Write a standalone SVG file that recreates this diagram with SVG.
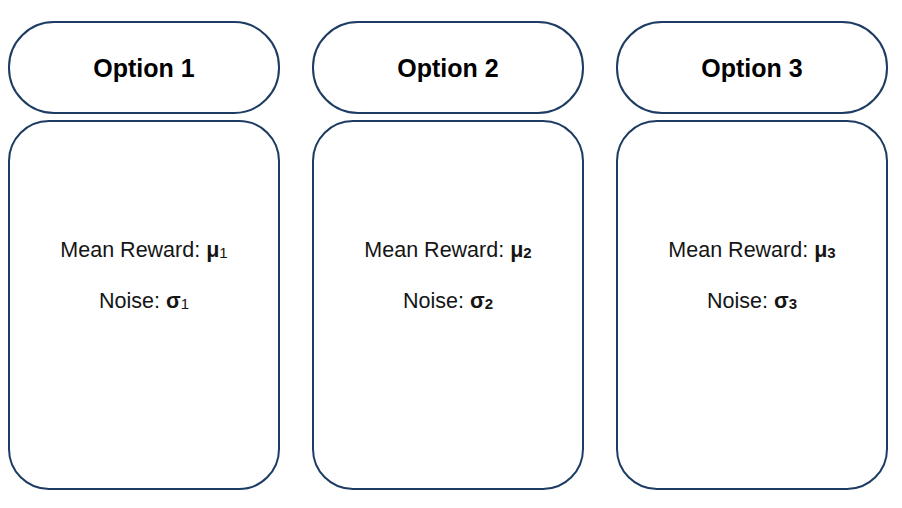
<svg xmlns="http://www.w3.org/2000/svg" width="902" height="508" viewBox="0 0 902 508">
<style>
.box{fill:#ffffff;stroke:#1d3c64;stroke-width:2}
.title{font-family:"Liberation Sans",Arial,sans-serif;font-weight:bold;font-size:25px;fill:#000;text-anchor:middle}
.body{font-family:"Liberation Sans",Arial,sans-serif;font-size:21.5px;fill:#151515;text-anchor:middle}
.b{font-weight:bold}
.sub{font-size:15px}
</style>
<rect width="902" height="508" fill="#ffffff"/>
<g id="connectors"></g>
<g id="option1">
<rect class="box" x="9" y="22" width="270" height="91" rx="45" ry="45"/>
<text class="title" x="144" y="77">Option 1</text>
</g>
<g id="details1">
<rect class="box" x="9" y="121" width="270" height="368" rx="40" ry="40"/>
<text class="body" x="144" y="257">Mean Reward: <tspan class="b">μ</tspan><tspan class="sub" dy="1">1</tspan></text>
<text class="body" x="144" y="308">Noise: <tspan class="b">σ</tspan><tspan class="sub" dy="1">1</tspan></text>
</g>
<g id="option2">
<rect class="box" x="313" y="22" width="270" height="91" rx="45" ry="45"/>
<text class="title" x="448" y="77">Option 2</text>
</g>
<g id="details2">
<rect class="box" x="313" y="121" width="270" height="368" rx="40" ry="40"/>
<text class="body" x="448" y="257">Mean Reward: <tspan class="b">μ</tspan><tspan class="b sub" dy="1">2</tspan></text>
<text class="body" x="448" y="308">Noise: <tspan class="b">σ</tspan><tspan class="b sub" dy="1">2</tspan></text>
</g>
<g id="option3">
<rect class="box" x="617" y="22" width="270" height="91" rx="45" ry="45"/>
<text class="title" x="752" y="77">Option 3</text>
</g>
<g id="details3">
<rect class="box" x="617" y="121" width="270" height="368" rx="40" ry="40"/>
<text class="body" x="752" y="257">Mean Reward: <tspan class="b">μ</tspan><tspan class="b sub" dy="1">3</tspan></text>
<text class="body" x="752" y="308">Noise: <tspan class="b">σ</tspan><tspan class="b sub" dy="1">3</tspan></text>
</g>
</svg>
